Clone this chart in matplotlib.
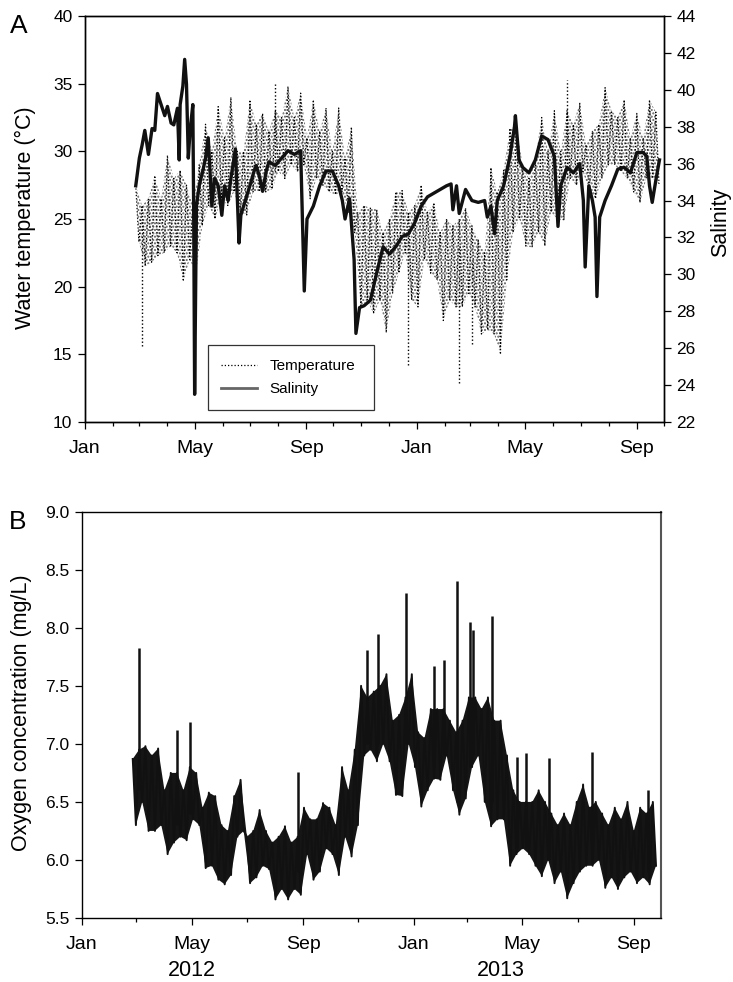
import numpy as np
import matplotlib
matplotlib.use("Agg")
import matplotlib.pyplot as plt
import matplotlib.dates as mdates
from matplotlib.lines import Line2D
from matplotlib.ticker import MultipleLocator, FormatStrFormatter

plt.rcParams['font.family'] = ['Liberation Sans', 'DejaVu Sans']
plt.rcParams['hatch.linewidth'] = 1.0

# ---------------- data (day offsets from 2012-01-01) ----------------
base_date = np.datetime64('2012-01-01')
x_start = '2012-01-01'
x_end = '2013-10-01'

week_days = [56, 63, 70, 77, 84, 91, 98, 105, 112, 119,
             126, 133, 140, 147, 154, 161, 168, 175, 182, 189,
             196, 203, 210, 217, 224, 231, 238, 245, 252, 259,
             266, 273, 280, 287, 294, 301, 308, 315, 322, 329,
             336, 343, 350, 357, 364, 371, 378, 385, 392, 399,
             406, 413, 420, 427, 434, 441, 448, 455, 462, 469,
             476, 483, 490, 497, 504, 511, 518, 525, 532, 539,
             546, 553, 560, 567, 574, 581, 588, 595, 602, 609,
             616, 623, 630]

# water temperature: weekly peak (upper) and trough (lower) readings
temp_upper = [27.5, 26, 26.5, 28.2, 26.5, 29.7, 28, 28.6, 27.5, 26,
              29, 32, 30, 33.3, 31, 34, 30, 30, 33.8, 32,
              32.8, 31.5, 33, 32.5, 34.8, 32.5, 34.3, 31, 33.8, 31.5,
              33.2, 30, 33.2, 29.5, 31.8, 25.5, 26, 25.8, 25.7, 24,
              25, 27, 27.1, 25.5, 26, 27.5, 25.5, 26.2, 24, 25,
              24.5, 25, 25.8, 24.5, 23.5, 22.5, 28.8, 27, 28.6, 31.7,
              31.8, 29, 28, 29.5, 32.5, 30, 33, 30, 33, 32,
              33.6, 30.5, 31.5, 32, 34.7, 33, 32.5, 33.8, 31, 32.8,
              31, 33.8, 32.9]
temp_lower = [23.3, 21.5, 21.8, 22.3, 22.5, 23, 22.5, 20.4, 22, 21,
              24.5, 26, 25, 26.5, 26, 27, 25.5, 25.3, 27, 27,
              27, 27.2, 28.5, 28, 29, 28.5, 29, 26.5, 28, 27.5,
              27, 26.8, 27, 25.5, 24, 18.5, 19, 18, 19, 16.6,
              19.5, 21, 22.5, 19, 18.5, 22, 21, 20.5, 17.5, 19,
              18.5, 18.5, 19.5, 18.5, 16.5, 16.8, 16.5, 15, 20.5, 24,
              25, 23, 22.9, 24, 23, 25.5, 25, 24.9, 28, 27.5,
              28.5, 27, 26.5, 28, 29, 29, 28.5, 28, 27, 26.2,
              28, 28, 27.6]
# isolated temperature excursions (day, low, high)
temp_spike_days = [63, 210, 357, 413, 427, 532]
temp_spike_low = [15.6, 28.5, 14.2, 12.9, 15.8, 28.0]
temp_spike_high = [25.0, 35.0, 24.0, 23.0, 22.0, 35.3]

# salinity
sal_days = [56, 60, 63, 66, 70, 74, 77, 80, 84, 88, 91, 95, 98, 102, 104, 105,
            108, 110, 112, 114, 116, 119, 120, 121, 123, 126, 130, 133, 136,
            140, 143, 147, 151, 154, 158, 161, 166, 170, 172, 175, 182, 186,
            189, 193, 196, 200, 203, 210, 217, 224, 231, 238, 242, 245, 252,
            259, 266, 273, 280, 284, 287, 292, 297, 299, 303, 308, 315, 322,
            329, 336, 343, 350, 357, 364, 371, 378, 385, 392, 399, 404, 406,
            410, 413, 420, 427, 434, 441, 444, 448, 452, 455, 462, 469, 474,
            475, 479, 483, 490, 497, 504, 511, 518, 522, 525, 532, 539, 546,
            550, 552, 556, 560, 563, 565, 568, 574, 581, 588, 595, 602, 609,
            616, 620, 623, 626, 630, 634]
sal_values = [34.8, 36.3, 37.0, 37.8, 36.5, 37.9, 37.8, 39.8, 39.2, 38.6, 39.1,
              38.2, 38.1, 39.0, 36.2, 39.2, 40.2, 41.65, 40.3, 36.3, 37.8,
              39.2, 33.0, 23.5, 33.7, 34.8, 35.6, 36.3, 37.4, 33.7, 35.2,
              34.8, 33.2, 34.8, 34.0, 35.2, 36.8, 31.7, 33.2, 33.7, 34.8,
              35.5, 35.9, 35.2, 34.5, 35.6, 36.1, 35.9, 36.3, 36.7, 36.5,
              36.7, 29.1, 33.0, 33.7, 34.8, 35.6, 35.6, 34.8, 34.0, 33.0,
              34.1, 30.8, 26.8, 28.2, 28.3, 28.6, 30.1, 31.5, 31.1, 31.5,
              32.05, 32.2, 32.8, 33.7, 34.2, 34.4, 34.6, 34.8, 34.9, 33.5,
              34.8, 33.3, 34.6, 34.0, 33.9, 34.0, 33.1, 33.7, 32.2, 34.0,
              34.8, 36.4, 38.0, 38.6, 36.2, 35.8, 35.5, 36.2, 37.5, 37.3,
              36.4, 32.6, 34.8, 35.8, 35.5, 36.0, 34.0, 30.4, 34.8, 34.0,
              33.1, 28.8, 33.1, 34.0, 34.8, 35.7, 35.8, 35.5, 36.6, 36.6,
              36.4, 34.8, 33.9, 35.1, 36.2]

# dissolved oxygen: weekly peak (upper) and trough (lower) readings
oxy_upper = [6.87, 6.95, 6.98, 6.9, 6.96, 6.6, 6.75, 6.75, 6.6, 6.8,
             6.75, 6.45, 6.58, 6.55, 6.3, 6.25, 6.55, 6.69, 6.2, 6.25,
             6.43, 6.25, 6.15, 6.2, 6.29, 6.15, 6.2, 6.45, 6.35, 6.35,
             6.49, 6.45, 6.3, 6.8, 6.6, 6.95, 7.5, 7.4, 7.45, 7.5,
             7.6, 7.2, 7.25, 7.4, 7.6, 7.1, 7.05, 7.3, 7.3, 7.3,
             7.2, 7.1, 7.2, 7.4, 7.4, 7.3, 7.4, 7.2, 7.2, 6.9,
             6.6, 6.5, 6.5, 6.5, 6.6, 6.5, 6.4, 6.3, 6.4, 6.3,
             6.5, 6.65, 6.45, 6.5, 6.4, 6.3, 6.45, 6.35, 6.5, 6.25,
             6.45, 6.4, 6.5]
oxy_lower = [6.3, 6.5, 6.25, 6.25, 6.3, 6.05, 6.15, 6.2, 6.17, 6.35,
             6.3, 5.93, 5.95, 5.83, 5.79, 5.87, 6.2, 6.25, 5.8, 5.85,
             5.95, 5.92, 5.66, 5.75, 5.66, 5.75, 5.7, 6.05, 5.83, 5.9,
             6.1, 6.05, 5.87, 6.2, 6.03, 6.3, 6.9, 6.95, 6.85, 7.0,
             6.85, 6.56, 6.55, 7.0, 6.8, 6.46, 6.6, 6.7, 6.69, 6.9,
             6.6, 6.39, 6.53, 6.8, 6.9, 6.5, 6.29, 6.35, 6.35, 5.95,
             6.05, 6.1, 6.05, 5.95, 5.86, 6.0, 5.8, 5.9, 5.67, 5.8,
             5.9, 5.95, 5.95, 6.0, 5.76, 5.85, 5.75, 5.85, 5.9, 5.8,
             5.85, 5.79, 5.95]
# isolated oxygen peaks (day, base, top)
oxy_spike_days = [63, 105, 119, 238, 314, 327, 358, 389, 399, 414, 428, 432,
                  452, 480, 490, 515, 563, 625]
oxy_spike_low = [6.6, 6.3, 6.4, 5.9, 7.0, 7.0, 7.0, 6.8, 6.9, 6.5, 6.8, 6.9,
                 6.5, 6.1, 6.1, 6.0, 6.0, 5.9]
oxy_spike_high = [7.83, 7.12, 7.19, 6.76, 7.81, 7.95, 8.3, 7.67, 7.72, 8.4,
                  8.05, 7.98, 8.1, 6.89, 6.92, 6.88, 6.93, 6.6]

year_labels = ['2012', '2013']
year_label_dates = ['2012-05-01', '2013-04-07']


def to_num(days):
    d = np.asarray(days, dtype=float)
    return mdates.date2num(base_date + (d * 24).astype('timedelta64[h]'))


def peaks_troughs(days, upper, lower):
    d = np.asarray(days, dtype=float)
    t = np.empty(2 * len(d))
    v = np.empty(2 * len(d))
    t[0::2] = d
    t[1::2] = d + 3.5
    v[0::2] = upper
    v[1::2] = lower
    return to_num(t), v


def band_polygon(days, upper, lower):
    d = np.asarray(days, dtype=float)
    tu = to_num(d)
    tl = to_num(d + 3.5)
    xs = np.concatenate([tu, tl[::-1]])
    ys = np.concatenate([np.asarray(upper, float), np.asarray(lower, float)[::-1]])
    return xs, ys


W, H = 733, 982
fig = plt.figure(figsize=(W / 100, H / 100), dpi=100)

def fx(px):
    return px / W

def fy(py):
    return 1 - py / H

axA = fig.add_axes([fx(85), fy(422), (664 - 85) / W, (422 - 16) / H])
axB = fig.add_axes([fx(82), fy(918), (661 - 82) / W, (918 - 511.7) / H])

xlim = (mdates.date2num(np.datetime64(x_start)), mdates.date2num(np.datetime64(x_end)))
dot_style = (0, (1, 1.6))

# ---------------- panel A ----------------
bx, by = band_polygon(week_days, temp_upper, temp_lower)
axA.fill(bx, by, facecolor='none', edgecolor='#5a5a5a', hatch='.....', linewidth=0)
tt, tv = peaks_troughs(week_days, temp_upper, temp_lower)
axA.plot(tt, tv, color='black', linestyle=dot_style, linewidth=0.9)
axA.vlines(to_num(temp_spike_days), temp_spike_low, temp_spike_high,
           color='black', linestyle=dot_style, linewidth=1.0)
axA.set_ylim(10, 40)
axA.yaxis.set_major_locator(MultipleLocator(5))
axA.set_xlim(*xlim)

axS = axA.twinx()
axS.plot(to_num(sal_days), sal_values, color='#111111', linewidth=2.4)
axS.set_ylim(22, 44)
axS.yaxis.set_major_locator(MultipleLocator(2))
axS.set_xlim(*xlim)

# ---------------- panel B ----------------
ox, oy = band_polygon(week_days, oxy_upper, oxy_lower)
axB.fill(ox, oy, facecolor='#151515', edgecolor='none', linewidth=0)
ot, ov = peaks_troughs(week_days, oxy_upper, oxy_lower)
axB.plot(ot, ov, color='#111111', linewidth=1.4)
axB.vlines(to_num(oxy_spike_days), oxy_spike_low, oxy_spike_high,
           color='#111111', linewidth=1.8)
axB.set_ylim(5.5, 9.0)
axB.yaxis.set_major_locator(MultipleLocator(0.5))
axB.yaxis.set_major_formatter(FormatStrFormatter('%.1f'))
axB.set_xlim(*xlim)

for ax in (axA, axB):
    ax.xaxis.set_major_locator(mdates.MonthLocator(bymonth=[1, 5, 9]))
    ax.xaxis.set_major_formatter(mdates.DateFormatter('%b'))
axA.xaxis.set_minor_locator(mdates.MonthLocator())
axB.xaxis.set_minor_locator(mdates.MonthLocator(bymonth=[3, 7, 11]))

for ax in (axA, axB, axS):
    for sp in ax.spines.values():
        sp.set_linewidth(1.0)
    ax.tick_params(axis='both', which='major', direction='out', length=5,
                   width=0.9, labelsize=12.5, pad=4)
    ax.tick_params(axis='x', which='major', labelsize=14, pad=8)
    ax.tick_params(axis='x', which='minor', direction='out', length=3, width=0.9)

axB.spines['right'].set_color('#555555')
axB.spines['right'].set_linewidth(1.5)

# legend
handles = [Line2D([], [], color='black', linestyle=dot_style, linewidth=0.9),
           Line2D([], [], color='#666666', linewidth=2.0)]
leg = axS.legend(handles, ['Temperature', 'Salinity'], loc='lower left',
                 bbox_to_anchor=(0.212, 0.0296, 0.287, 0.165), mode='expand',
                 fontsize=11, frameon=True, fancybox=False, edgecolor='black',
                 handlelength=2.3, handletextpad=0.85, borderpad=0.9,
                 labelspacing=0.6, borderaxespad=0)
leg.get_frame().set_linewidth(0.9)

# axis labels
fig.text(fx(25), fy(218), 'Water temperature (°C)', rotation=90,
         ha='center', va='center', fontsize=15.5)
fig.text(fx(721), fy(222), 'Salinity', rotation=90,
         ha='center', va='center', fontsize=15.5)
fig.text(fx(22), fy(713), 'Oxygen concentration (mg/L)', rotation=90,
         ha='center', va='center', fontsize=15.5)

# panel letters
fig.text(fx(10), fy(33), 'A', ha='left', va='baseline', fontsize=19)
fig.text(fx(9), fy(529), 'B', ha='left', va='baseline', fontsize=19)

# year labels
for lab, d in zip(year_labels, year_label_dates):
    axB.text(mdates.date2num(np.datetime64(d)), -0.13, lab,
             transform=axB.get_xaxis_transform(),
             ha='center', va='center', fontsize=15.5)

fig.savefig('out.png', dpi=100)
